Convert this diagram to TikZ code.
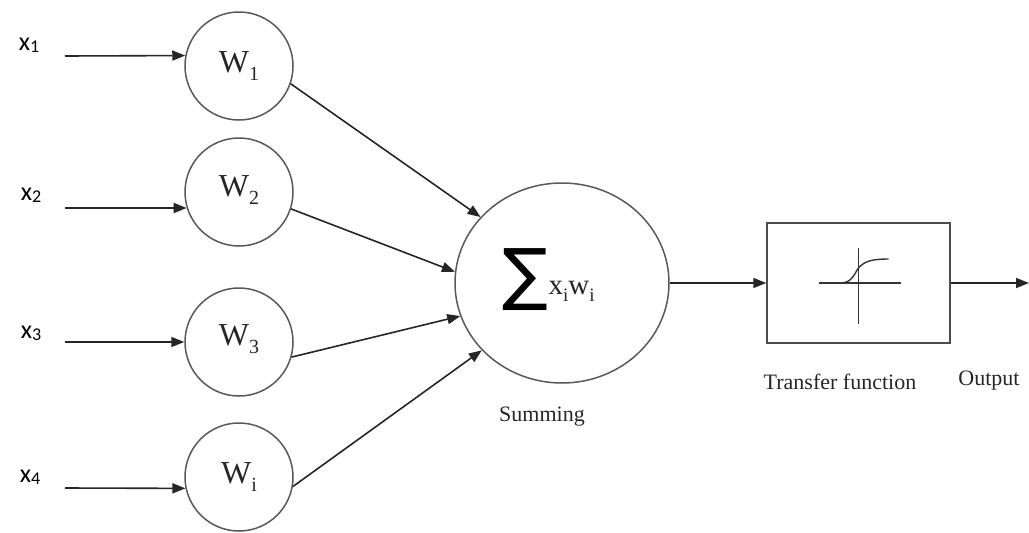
\documentclass[tikz,border=0pt]{standalone}
\usepackage{fontspec}
\setmainfont{Liberation Serif}
\newfontfamily\xfont{Carlito}
\newfontfamily\sigfont{DejaVu Sans}
\usetikzlibrary{arrows.meta,shapes.geometric}
\begin{document}
\begin{tikzpicture}[x=1pt,y=-1pt,
  wcirc/.style={circle,draw=black!65,line width=1.5pt,minimum size=108pt,inner sep=0pt,font=\fontsize{32}{32}\selectfont,text=black!85},
  conn/.style={draw=black!85,line width=1.6pt,-{Triangle[length=13pt,width=10pt]}},
  lbl/.style={font=\fontsize{22}{22}\selectfont,text=black!85},
  inlbl/.style={font=\xfont\fontsize{26}{26}\selectfont,text=black}]
\useasboundingbox (0,0) rectangle (1029,533);
% input labels
\node[inlbl] (x1) at (29,45) {x\raisebox{-2pt}{\fontsize{18}{18}\selectfont 1}};
\node[inlbl] (x2) at (31,195) {x\raisebox{-2pt}{\fontsize{18}{18}\selectfont 2}};
\node[inlbl] (x3) at (31,333) {x\raisebox{-2pt}{\fontsize{18}{18}\selectfont 3}};
\node[inlbl] (x4) at (30,477) {x\raisebox{-2pt}{\fontsize{18}{18}\selectfont 4}};
\coordinate (s1) at (65,56);
\coordinate (s2) at (65,208);
\coordinate (s3) at (65,342);
\coordinate (s4) at (65,488);
% weight circles
\node[wcirc] (W1) at (239,66) {\raisebox{8pt}{W\raisebox{-8pt}{\fontsize{20}{20}\selectfont 1}}};
\node[wcirc] (W2) at (239,192) {\raisebox{12pt}{W\raisebox{-8pt}{\fontsize{20}{20}\selectfont 2}}};
\node[wcirc] (W3) at (239,342) {\raisebox{13pt}{W\raisebox{-8pt}{\fontsize{20}{20}\selectfont 3}}};
\node[wcirc] (W4) at (239,477) {\raisebox{8pt}{W\raisebox{-8pt}{\fontsize{20}{20}\selectfont i}}};
% summing ellipse
\node[ellipse,draw=black!65,line width=1.5pt,minimum width=214pt,minimum height=200pt,inner sep=0pt] (sum) at (562,283) {};
\node (sig) at (525,280) {\sigfont\fontsize{68}{68}\selectfont ∑};
\node[anchor=west,font=\fontsize{29}{29}\selectfont,text=black!85] (xw) at (545,291) {x\raisebox{-7pt}{\fontsize{19}{19}\selectfont i}w\raisebox{-7pt}{\fontsize{19}{19}\selectfont i}};
\node[lbl] (summing) at (542,417) {Summing};
% transfer box
\node[rectangle,draw=black!70,line width=1.5pt,minimum width=183pt,minimum height=120pt,inner sep=0pt] (box) at (858.5,283) {};
\draw[black!80,line width=1.4pt] ([xshift=-40pt]box.center) -- ([xshift=42pt]box.center);
\draw[black!80,line width=1.4pt] ([yshift=35pt]box.center) -- ([yshift=-41pt]box.center);
\draw[black!80,line width=1.4pt] ([xshift=-18pt]box.center) .. controls ([xshift=-6pt]box.center) and ([xshift=-4pt,yshift=10pt]box.center) .. ([yshift=15pt]box.center) .. controls ([xshift=6pt,yshift=22pt]box.center) and ([xshift=14pt,yshift=24pt]box.center) .. ([xshift=30pt,yshift=24pt]box.center);
\node[lbl] (tf) at (840,382) {Transfer function};
\node[lbl] (outl) at (989,381) {Output};
\coordinate (out) at (1029,283);
% connectors
\draw[conn] (s1) -- (W1.169);
\draw[conn] (s2) -- (W2.197);
\draw[conn] (s3) -- (W3.180);
\draw[conn] (s4) -- (W4.192);
\draw[conn] (W1.-19) -- (sum.141);
\draw[conn] (W2.-18) -- (sum.174);
\draw[conn] (W3.-16) -- (sum.-162);
\draw[conn] (W4.-10) -- (sum.220);
\draw[conn] (sum.east) -- (box.west);
\draw[conn] (box.east) -- (out);
\end{tikzpicture}
\end{document}
